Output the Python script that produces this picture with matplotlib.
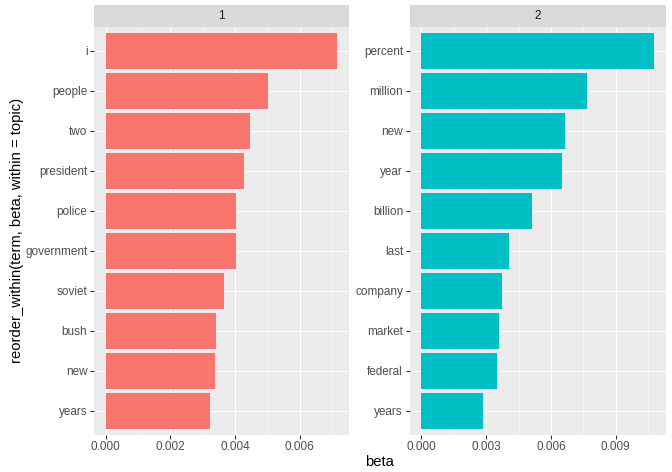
import matplotlib
matplotlib.use("Agg")
import matplotlib.pyplot as plt
from matplotlib.ticker import FixedLocator, FormatStrFormatter

plt.rcParams['font.family'] = ['Liberation Sans', 'DejaVu Sans']

# Data (terms listed top to bottom)
topic1_terms = ["i", "people", "two", "president", "police", "government", "soviet", "bush", "new", "years"]
topic1_beta = [0.00716, 0.00502, 0.00445, 0.00426, 0.00404, 0.00402, 0.00365, 0.00342, 0.00338, 0.00324]
topic2_terms = ["percent", "million", "new", "year", "billion", "last", "company", "market", "federal", "years"]
topic2_beta = [0.01077, 0.00769, 0.00664, 0.00650, 0.00511, 0.00406, 0.00372, 0.00361, 0.00349, 0.00287]
facet_labels = ["1", "2"]
colors = ["#F8766D", "#00BFC4"]
major_ticks = [[0.000, 0.002, 0.004, 0.006], [0.000, 0.003, 0.006, 0.009]]
minor_ticks = [[0.001, 0.003, 0.005, 0.007], [0.0015, 0.0045, 0.0075, 0.0105]]

W, H = 672, 472
fig = plt.figure(figsize=(W / 100, H / 100), dpi=100)

panel_top = 26.7
panel_bottom = 434.7
strip_top = 4.5
panels_x = [(94.0, 349.0), (409.7, 665.6)]

def fx(px):
    return px / W

def fy(py):
    return 1 - py / H

tick_fs = 8.45
title_fs = 10.6

for i, (terms, betas) in enumerate([(topic1_terms, topic1_beta), (topic2_terms, topic2_beta)]):
    x0, x1 = panels_x[i]
    ax = fig.add_axes([fx(x0), fy(panel_bottom), fx(x1) - fx(x0), fy(panel_top) - fy(panel_bottom)])
    n = len(terms)
    ypos = list(range(n, 0, -1))
    ax.set_facecolor("#EBEBEB")
    ax.barh(ypos, betas, height=0.9, color=colors[i], zorder=3)
    xmax = max(betas)
    ax.set_xlim(-0.05 * xmax, 1.05 * xmax)
    ax.set_ylim(0.4, n + 0.6)
    ax.set_yticks(ypos)
    ax.set_yticklabels(terms)
    ax.xaxis.set_major_locator(FixedLocator(major_ticks[i]))
    ax.xaxis.set_minor_locator(FixedLocator(minor_ticks[i]))
    ax.xaxis.set_major_formatter(FormatStrFormatter('%.3f'))
    ax.grid(which='major', axis='both', color='white', linewidth=0.77, zorder=1)
    ax.grid(which='minor', axis='x', color='white', linewidth=0.38, zorder=1)
    ax.set_axisbelow(True)
    for s in ax.spines.values():
        s.set_visible(False)
    ax.tick_params(which='major', length=2.66, width=0.77, color='#333333',
                   labelcolor='#4D4D4D', labelsize=tick_fs, pad=2.1)
    ax.tick_params(which='minor', length=0)
    # strip
    sax = fig.add_axes([fx(x0), fy(panel_top), fx(x1) - fx(x0), fy(strip_top) - fy(panel_top)])
    sax.set_facecolor("#D9D9D9")
    sax.set_xticks([])
    sax.set_yticks([])
    for s in sax.spines.values():
        s.set_visible(False)
    sax.text(0.5, 0.5, facet_labels[i], ha='center', va='center', fontsize=tick_fs,
             color='#1A1A1A', transform=sax.transAxes)

fig.text(fx((panels_x[0][0] + panels_x[1][1]) / 2), fy(462), "beta", ha='center', va='center',
         fontsize=title_fs, color='black')
fig.text(fx(17), fy((panel_top + panel_bottom) / 2), "reorder_within(term, beta, within = topic)",
         ha='center', va='center', rotation=90, fontsize=title_fs, color='black')

fig.savefig("out.png", dpi=100, facecolor='white')
